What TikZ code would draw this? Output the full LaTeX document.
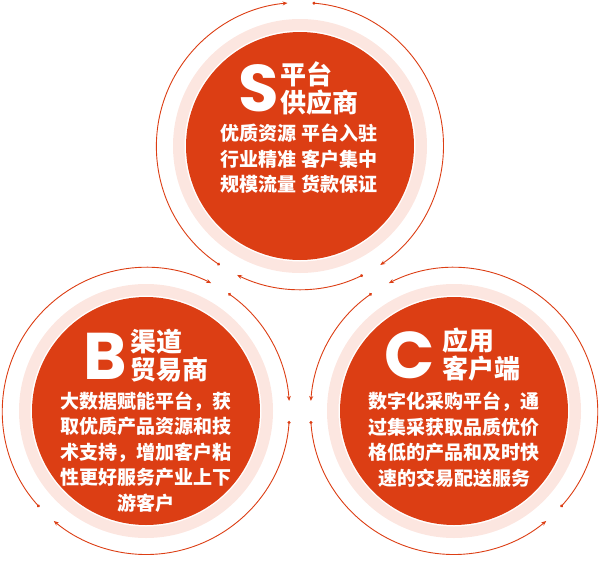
\documentclass[tikz,border=0pt]{standalone}
\usepackage{fontspec}
\usepackage{tikz}
\usetikzlibrary{positioning, arrows.meta}
\newfontfamily\cjk{Noto Sans CJK SC}
\newfontfamily\latinfont{Poppins}
\definecolor{brickred}{HTML}{DC3E14}
\definecolor{blush}{HTML}{FCE6E0}
\tikzset{disc/.style={circle, fill=brickred, minimum size=228pt, inner sep=0pt},
  halo/.style={draw=blush, line width=11.5pt},
  ring/.style={draw=brickred, line width=0.9pt,
    arrows={Circle[length=3pt]-Stealth[length=5pt,width=4pt]}},
  letter/.style={text=white, inner sep=0pt, text height=47pt, text depth=0pt,
    font=\latinfont\bfseries\fontsize{66}{66}\selectfont},
  title/.style={text=white, inner sep=0pt, align=left,
    font=\cjk\bfseries\fontsize{26}{28}\selectfont},
  body/.style={text=white, inner sep=0pt, align=center,
    font=\cjk\bfseries\fontsize{19}{25.5}\selectfont}}

\begin{document}
\begin{tikzpicture}[x=1pt, y=1pt]
    \useasboundingbox (0,0) rectangle (600,-560);

    \node[disc] (S) at (300,-146) {};
    \node[disc] (B) at (146,-411) {};
    \node[disc] (C) at (454,-411) {};

    \draw[halo] (S.center) circle[radius=121.25];
    \draw[halo] (B.center) circle[radius=121.25];
    \draw[halo] (C.center) circle[radius=121.25];

    % S ring, clockwise
    \draw[ring] (S.center) ++(236:143.5) arc[start angle=236, end angle=95, radius=143.5];
    \draw[ring] (S.center) ++(85:143.5) arc[start angle=85, end angle=-56, radius=143.5];
    \draw[ring] (S.center) ++(296:143.5) arc[start angle=296, end angle=244, radius=143.5];

    % B ring, clockwise
    \draw[ring] (B.center) ++(222:143.5) arc[start angle=222, end angle=63, radius=143.5];
    \draw[ring] (B.center) ++(55:143.5) arc[start angle=55, end angle=4, radius=143.5];
    \draw[ring] (B.center) ++(-4:143.5) arc[start angle=-4, end angle=-130, radius=143.5];

    % C ring, counterclockwise
    \draw[ring] (C.center) ++(125:143.5) arc[start angle=125, end angle=176, radius=143.5];
    \draw[ring] (C.center) ++(184:143.5) arc[start angle=184, end angle=310, radius=143.5];
    \draw[ring] (C.center) ++(318:143.5) arc[start angle=318, end angle=477, radius=143.5];

    \node[letter] (S-letter) at (259,-88) {S};
    \node[title, right=1pt of S-letter] (S-title) {平台\\供应商};
    \node[body] (S-text) at (299,-159)
      {优质资源\hspace{6pt}平台入驻\\行业精准\hspace{6pt}客户集中\\规模流量\hspace{6pt}货款保证};

    \node[letter] (B-letter) at (105,-356) {B};
    \node[title, right=3.5pt of B-letter] (B-title) {渠道\\贸易商};
    \node[body] (B-text) at (146,-452)
      {大数据赋能平台，获\\取优质产品资源和技\\术支持，增加客户粘\\性更好服务产业上下\\游客户};

    \node[letter] (C-letter) at (410,-355) {C};
    \node[title, right=7pt of C-letter] (C-title) {应用\\客户端};
    \node[body] (C-text) at (454,-439.5)
      {数字化采购平台，通\\过集采获取品质优价\\格低的产品和及时快\\速的交易配送服务};
\end{tikzpicture}
\end{document}
